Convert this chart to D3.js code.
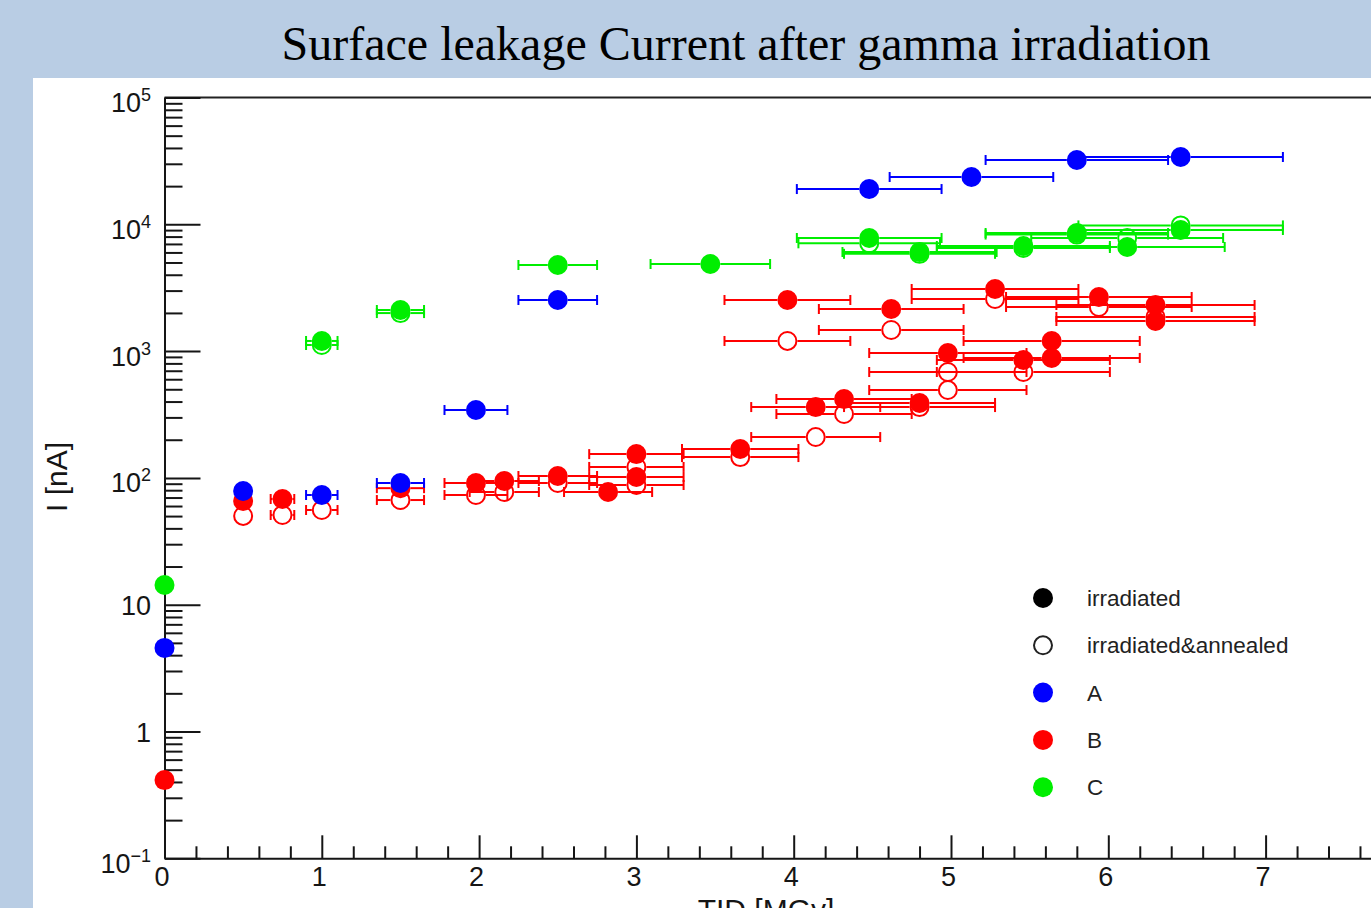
<!DOCTYPE html>
<html>
<head>
<meta charset="utf-8">
<script src="https://cdn.jsdelivr.net/npm/d3@7"></script>
<style>
  html, body { margin: 0; padding: 0; overflow: hidden; background: #b9cde4; }
  svg { display: block; }
</style>
</head>
<body>
<svg id="chart" width="1371" height="908"></svg>
<script>
// ---- Data: total ionising dose [MGy] vs surface leakage current [nA] ----
// Sample A (blue), irradiated
const tidA_irr = [0, 0.5, 1.0, 1.5, 1.98, 2.5, 4.48, 5.13, 5.8, 6.46];
const curA_irr = [4.56, 78.8, 73.3, 91.2, 343, 2530, 18970, 23600, 32140, 33960];
const errA_irr = [0, 0.05, 0.10, 0.15, 0.20, 0.25, 0.46, 0.52, 0.58, 0.65];

// Sample B (red), irradiated
const tidB_irr = [0, 0.5, 0.75, 1.5, 1.98, 2.16, 2.5, 2.82, 3.0, 3.0, 3.66, 3.96, 4.14, 4.32, 4.62, 4.8, 4.98, 5.28, 5.46, 5.64, 5.64, 5.94, 6.3, 6.3];
const curB_irr = [0.414, 65.8, 68.2, 83, 91.2, 94.5, 103.5, 77.4, 154, 101.6, 169, 2529, 362, 419, 2148, 390, 966, 3090, 851, 1202, 883, 2672, 2310, 1727];
const errB_irr = [0, 0.05, 0.075, 0.15, 0.20, 0.22, 0.25, 0.28, 0.30, 0.30, 0.37, 0.40, 0.41, 0.43, 0.46, 0.48, 0.50, 0.53, 0.55, 0.56, 0.56, 0.59, 0.63, 0.63];

// Sample B (red), irradiated & annealed
const tidB_ann = [0.5, 0.75, 1.0, 1.5, 1.98, 2.16, 2.5, 3.0, 3.0, 3.66, 3.96, 4.14, 4.32, 4.62, 4.8, 4.98, 4.98, 5.28, 5.46, 5.94, 6.3];
const curB_ann = [50.1, 51, 55.8, 66.9, 73.3, 77.4, 91.2, 122, 87.9, 146, 1202, 210, 319, 1467, 362, 684, 493, 2576, 684, 2228, 1858];
const errB_ann = [0.05, 0.075, 0.10, 0.15, 0.20, 0.22, 0.25, 0.30, 0.30, 0.37, 0.40, 0.41, 0.43, 0.46, 0.48, 0.50, 0.50, 0.53, 0.55, 0.59, 0.63];

// Sample C (green), irradiated
const tidC_irr = [0, 1.0, 1.5, 2.5, 3.47, 4.48, 4.8, 5.46, 5.8, 6.12, 6.46];
const curC_irr = [14.3, 1202, 2109, 4776, 4863, 7800, 6045, 6745, 8537, 6622, 9020];
const errC_irr = [0, 0.10, 0.15, 0.25, 0.38, 0.46, 0.49, 0.55, 0.58, 0.62, 0.65];

// Sample C (green), irradiated & annealed
const tidC_ann = [1.0, 1.5, 4.48, 4.8, 5.46, 5.8, 6.12, 6.46];
const curC_ann = [1117, 1995, 7080, 5850, 6500, 8300, 7800, 9800];
const errC_ann = [0.10, 0.15, 0.45, 0.48, 0.55, 0.58, 0.61, 0.65];

// Axis tick values and labels
const xMajorTicks = [0, 1, 2, 3, 4, 5, 6, 7];
const yMajorTicks = [0.1, 1, 10, 100, 1000, 10000, 100000];
const yTickBase   = ["10", "1", "10", "10", "10", "10", "10"];
const yTickExp    = ["\u22121", "", "", "2", "3", "4", "5"];

// Legend entries
const legendLabels = ["irradiated", "irradiated&annealed", "A", "B", "C"];
const legendColors = ["#000000", "#000000", "#0000ff", "#ff0000", "#00ee00"];
const legendFilled = [true, false, true, true, true];

const COL_A = "#0000ff", COL_B = "#ff0000", COL_C = "#00ee00";

// ---- Layout ----
const W = 1371, H = 908;
const svg = d3.select("#chart");
const sans = "'Liberation Sans', Arial, Helvetica, sans-serif";
const ink = "#151515";

svg.append("rect").attr("width", W).attr("height", H).attr("fill", "#b9cde4");
svg.append("rect").attr("x", 33).attr("y", 78).attr("width", W - 33).attr("height", H - 78).attr("fill", "#ffffff");

svg.append("text")
  .attr("x", 746).attr("y", 60)
  .attr("text-anchor", "middle")
  .attr("font-family", "'Liberation Serif', 'Times New Roman', serif")
  .attr("font-size", 48)
  .attr("fill", "#000")
  .text("Surface leakage Current after gamma irradiation");

const x = d3.scaleLinear().domain([0, 8]).range([164.5, 1422.9]);
const y = d3.scaleLog().domain([0.1, 1e5]).range([858.3, 97.5]);

// frame top edge
svg.append("line")
  .attr("x1", x(0)).attr("x2", W)
  .attr("y1", y(1e5)).attr("y2", y(1e5))
  .attr("stroke", "#222").attr("stroke-width", 2);

// ---- X axis ----
const xMinor = x.ticks(40).filter(v => Math.abs(v - Math.round(v)) > 1e-6);
const gxMinor = svg.append("g").attr("transform", `translate(0,${y(0.1)})`)
  .call(d3.axisBottom(x).tickValues(xMinor).tickSize(-12).tickSizeOuter(0).tickFormat(""));
gxMinor.select(".domain").remove();

const gx = svg.append("g").attr("transform", `translate(0,${y(0.1)})`)
  .call(d3.axisBottom(x).tickValues(xMajorTicks).tickSize(-23).tickSizeOuter(0)
        .tickPadding(9).tickFormat(d3.format("d")));
gx.selectAll("text").attr("x", -3).attr("font-size", 27).attr("font-family", sans).attr("fill", ink);

// ---- Y axis ----
const yMinor = y.ticks().filter(v => !yMajorTicks.some(m => Math.abs(v / m - 1) < 1e-6));
const gyMinor = svg.append("g").attr("transform", `translate(${x(0)},0)`)
  .call(d3.axisLeft(y).tickValues(yMinor).tickSize(-18).tickSizeOuter(0).tickFormat(""));
gyMinor.select(".domain").remove();

const gy = svg.append("g").attr("transform", `translate(${x(0)},0)`)
  .call(d3.axisLeft(y).tickValues(yMajorTicks).tickSize(-36).tickSizeOuter(0).tickFormat(() => ""));

gy.selectAll(".tick text").each(function (d, i) {
  const t = d3.select(this);
  const hasExp = yTickExp[i] !== "";
  t.attr("x", -13.5).attr("dy", null).attr("y", hasExp ? 14 : 10)
   .attr("font-size", 27).attr("font-family", sans).attr("fill", ink)
   .attr("text-anchor", "end").text(null);
  t.append("tspan").text(yTickBase[i]);
  if (hasExp) t.append("tspan").attr("font-size", 18).attr("dy", -11).text(yTickExp[i]);
});

[gx, gxMinor, gy, gyMinor].forEach(g => {
  g.selectAll("line").attr("stroke", ink).attr("stroke-width", 2);
  g.selectAll(".domain").attr("stroke", ink).attr("stroke-width", 2);
});

// axis titles
svg.append("text")
  .attr("transform", "translate(67,477) rotate(-90)")
  .attr("text-anchor", "middle")
  .attr("font-family", sans).attr("font-size", 30).attr("fill", ink)
  .text("I [nA]");
svg.append("text")
  .attr("x", 766).attr("y", 919.5)
  .attr("text-anchor", "middle")
  .attr("font-family", sans).attr("font-size", 30).attr("fill", ink)
  .text("TID [MGy]");

// ---- Data marks ----
const R = 10, CAP = 5;
const series = [
  { t: tidB_ann, c: curB_ann, e: errB_ann, col: COL_B, filled: false },
  { t: tidC_ann, c: curC_ann, e: errC_ann, col: COL_C, filled: false },
  { t: tidB_irr, c: curB_irr, e: errB_irr, col: COL_B, filled: true },
  { t: tidC_irr, c: curC_irr, e: errC_irr, col: COL_C, filled: true },
  { t: tidA_irr, c: curA_irr, e: errA_irr, col: COL_A, filled: true }
];

const gBars = svg.append("g");
const gOpen = svg.append("g");
const gFill = svg.append("g");

series.forEach(s => {
  const pts = s.t.map((t, i) => ({ t, c: s.c[i], e: s.e[i] }));
  pts.forEach(p => {
    const cx = x(p.t), cy = y(p.c);
    const xl = x(p.t - p.e), xr = x(p.t + p.e);
    if (cx - xl > R) {
      const g = gBars.append("g").attr("stroke", s.col).attr("stroke-width", 2);
      g.append("line").attr("x1", xl).attr("x2", cx - R).attr("y1", cy).attr("y2", cy);
      g.append("line").attr("x1", cx + R).attr("x2", xr).attr("y1", cy).attr("y2", cy);
      g.append("line").attr("x1", xl).attr("x2", xl).attr("y1", cy - CAP).attr("y2", cy + CAP);
      g.append("line").attr("x1", xr).attr("x2", xr).attr("y1", cy - CAP).attr("y2", cy + CAP);
    }
  });
  const layer = s.filled ? gFill : gOpen;
  layer.selectAll(null).data(pts).enter().append("circle")
    .attr("cx", p => x(p.t)).attr("cy", p => y(p.c))
    .attr("r", s.filled ? R : R - 1)
    .attr("fill", s.filled ? s.col : "none")
    .attr("stroke", s.filled ? "none" : s.col)
    .attr("stroke-width", 2);
});

// ---- Legend ----
const legend = svg.append("g").attr("transform", "translate(1043,598)");
const items = legend.selectAll("g").data(legendLabels).enter().append("g")
  .attr("transform", (d, i) => `translate(0,${i * 47.3})`);
items.append("circle")
  .attr("r", (d, i) => legendFilled[i] ? R : R - 1)
  .attr("fill", (d, i) => legendFilled[i] ? legendColors[i] : "none")
  .attr("stroke", (d, i) => legendFilled[i] ? "none" : "#222")
  .attr("stroke-width", 2);
items.append("text")
  .attr("x", 44).attr("y", 8)
  .attr("font-family", sans).attr("font-size", 22.5).attr("fill", "#222")
  .text(d => d);
</script>
</body>
</html>
